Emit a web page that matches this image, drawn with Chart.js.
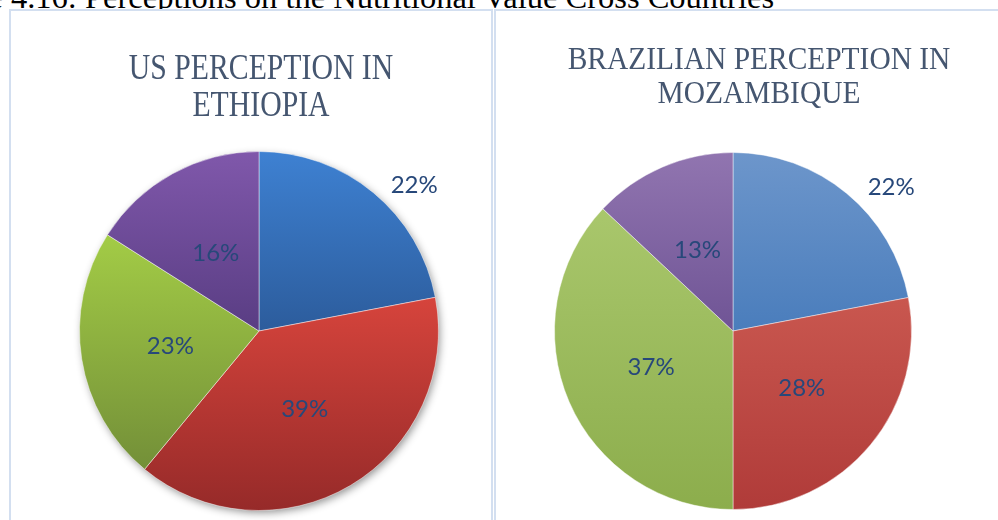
<!DOCTYPE html>
<html>
<head>
<meta charset="utf-8">
<script src="https://cdn.jsdelivr.net/npm/chart.js@4.4.1/dist/chart.umd.min.js"></script>
<style>
  html, body { margin: 0; padding: 0; background: #ffffff; }
  body { width: 998px; height: 520px; overflow: hidden; position: relative; }
  #caption { position: absolute; left: -82px; top: -19px; white-space: nowrap;
             font-family: "Liberation Serif", "Times New Roman", serif; font-size: 32.5px;
             line-height: 32px; color: #000; z-index: 0; }
  .panel { position: absolute; top: 9px; height: 600px; box-sizing: border-box;
           border: 2px solid #d3dff0; background: #ffffff; z-index: 1; }
  #panelL { left: 9px; width: 484px; }
  #panelR { left: 494px; width: 530px; }
  canvas { position: absolute; top: 0; z-index: 2; }
  #chartL { left: 0; }
  #chartR { left: 494px; }
</style>
</head>
<body>
<div id="caption">Figure 4.16: Perceptions on the Nutritional Value Cross Countries</div>
<div class="panel" id="panelL"></div>
<div class="panel" id="panelR"></div>
<canvas id="chartL" width="493" height="520"></canvas>
<canvas id="chartR" width="504" height="520"></canvas>
<script>
// ---- data ----
const categories = ['Category 1', 'Category 2', 'Category 3', 'Category 4'];
const usEthiopia = [22, 39, 23, 16];
const brazilMozambique = [22, 28, 37, 13];
const titleUS = ['US PERCEPTION IN', 'ETHIOPIA'];
const titleBR = ['BRAZILIAN PERCEPTION IN', 'MOZAMBIQUE'];

// ---- styles ----
const colorsL = [['#3e81d2', '#2c5c9c'], ['#d6443c', '#962a29'], ['#a3cc46', '#738f38'], ['#8058ab', '#593d83']];
const colorsR = [['#6d96cb', '#4a7dbc'], ['#c9574f', '#b03b39'], ['#a9c76c', '#8cad4c'], ['#9175b0', '#6f5495']];

function sliceGradient(ctx, pairs) {
  const chart = ctx.chart;
  const area = chart.chartArea;
  const i = ctx.dataIndex;
  const pair = pairs[i % pairs.length];
  if (!area) return pair[0];
  const data = ctx.dataset.data;
  const total = data.reduce((a, b) => a + b, 0);
  let before = 0;
  for (let k = 0; k < i; k++) before += data[k];
  const a0 = before / total * Math.PI * 2;
  const a1 = (before + data[i]) / total * Math.PI * 2;
  const cx = (area.left + area.right) / 2, cy = (area.top + area.bottom) / 2;
  const r = Math.min(area.right - area.left, area.bottom - area.top) / 2;
  const ys = [cy, cy - r * Math.cos(a0), cy - r * Math.cos(a1)];
  if (a0 <= Math.PI && a1 >= Math.PI) ys.push(cy + r);
  const y0 = Math.min(...ys), y1 = Math.max(...ys);
  const g = chart.ctx.createLinearGradient(0, y0, 0, Math.max(y1, y0 + 1));
  g.addColorStop(0, pair[0]);
  g.addColorStop(1, pair[1]);
  return g;
}

const panelPlugin = {
  id: 'panelDecor',
  beforeDatasetsDraw(chart, args, opts) {
    if (!opts.shadow) return;
    const meta = chart.getDatasetMeta(0);
    const el = meta.data[0];
    if (!el) return;
    const c = chart.ctx;
    c.save();
    c.shadowColor = 'rgba(0,0,0,0.45)';
    c.shadowBlur = 8;
    c.shadowOffsetX = 2;
    c.shadowOffsetY = 3;
    c.fillStyle = '#ffffff';
    c.beginPath();
    c.arc(el.x, el.y, el.outerRadius - 1, 0, Math.PI * 2);
    c.fill();
    c.restore();
  },
  afterDatasetsDraw(chart, args, opts) {
    const c = chart.ctx;
    // title
    c.save();
    c.fillStyle = opts.titleColor;
    c.font = opts.titleSize + 'px "Liberation Serif", "Times New Roman", serif';
    c.textAlign = 'center';
    c.textBaseline = 'alphabetic';
    opts.title.forEach((line, k) => {
      c.save();
      c.translate(opts.titleX, opts.titleBaselines[k]);
      c.scale(opts.titleScaleX, 1);
      c.fillText(line, 0, 0);
      c.restore();
    });
    c.restore();
    // value labels
    const meta = chart.getDatasetMeta(0);
    const data = chart.data.datasets[0].data;
    c.save();
    c.fillStyle = opts.labelColor;
    c.font = '24px Lato, "Open Sans", sans-serif';
    c.textAlign = 'center';
    c.textBaseline = 'alphabetic';
    meta.data.forEach((el, i) => {
      const place = (opts.labelPlace && opts.labelPlace[i]) || { f: 0.5, shift: 0 };
      const mid = (el.startAngle + el.endAngle) / 2 + place.shift * Math.PI / 180;
      const d = el.outerRadius * place.f;
      const x = el.x + d * Math.cos(mid);
      const y = el.y + d * Math.sin(mid);
      c.fillText(data[i] + '%', x, y + 8.5);
    });
    c.restore();
  }
};

function makeChart(id, values, pairs, padding, decor) {
  return new Chart(document.getElementById(id), {
    type: 'pie',
    data: {
      labels: categories,
      datasets: [{
        data: values,
        backgroundColor: (ctx) => sliceGradient(ctx, pairs),
        borderColor: 'rgba(255,255,255,0.45)',
        borderWidth: 1
      }]
    },
    options: {
      responsive: false,
      animation: false,
      events: [],
      layout: { padding: padding },
      plugins: {
        legend: { display: false },
        tooltip: { enabled: false },
        title: { display: false },
        panelDecor: decor
      }
    },
    plugins: [panelPlugin]
  });
}

makeChart('chartL', usEthiopia, colorsL,
  { left: 79, right: 54, top: 151, bottom: 9 },
  { shadow: true, title: titleUS, titleSize: 35, titleScaleX: 0.85, titleX: 261,
    titleBaselines: [79, 116], titleColor: '#455670', labelColor: '#27487a',
    labelPlace: [{ f: 1.19, shift: 7 }] });

makeChart('chartR', brazilMozambique, colorsR,
  { left: 60, right: 86, top: 152, bottom: 10 },
  { shadow: false, title: titleBR, titleSize: 32, titleScaleX: 0.92, titleX: 265,
    titleBaselines: [69, 103], titleColor: '#455670', labelColor: '#27487a',
    labelPlace: [{ f: 1.2, shift: 8 }] });
</script>
</body>
</html>
